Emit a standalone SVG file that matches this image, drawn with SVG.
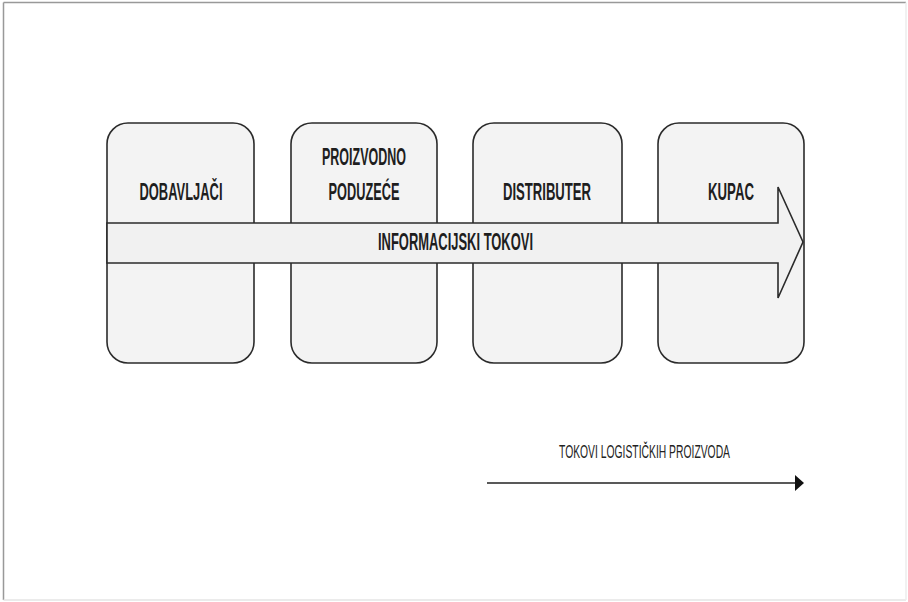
<svg xmlns="http://www.w3.org/2000/svg" width="908" height="602" viewBox="0 0 908 602">
<style>
.box{fill:#f3f3f3;stroke:#2b2b2b;stroke-width:1.6}
.band{fill:#f1f1f1;stroke:#2b2b2b;stroke-width:1.6;stroke-linejoin:miter}
.lbl{font-family:"Liberation Sans",Arial,sans-serif;font-weight:bold;font-size:23px;fill:#1e1e1e;text-anchor:middle}
.sub{font-family:"Liberation Sans",Arial,sans-serif;font-size:18px;fill:#222;text-anchor:middle}
.frame{stroke:#999;stroke-width:1.5;fill:none}
</style>
<rect width="908" height="602" fill="#fff"/>
<g id="frame">
<line class="frame" x1="3.5" y1="2.5" x2="906" y2="2.5"/>
<line class="frame" x1="3.5" y1="2.5" x2="3.5" y2="600"/>
<line x1="3.5" y1="600" x2="906" y2="600" stroke="#e4e4e4" stroke-width="1.5"/>
<line x1="906" y1="2.5" x2="906" y2="600" stroke="#ececec" stroke-width="1.5"/>
</g>
<g id="dobavljaci">
<rect class="box" x="107" y="123" width="147" height="240" rx="21" ry="21"/>
<text class="lbl" x="181" y="200" textLength="83" lengthAdjust="spacingAndGlyphs">DOBAVLJAČI</text>
</g>
<g id="proizvodno">
<rect class="box" x="291" y="123" width="146" height="240" rx="21" ry="21"/>
<text class="lbl" x="364" y="165" textLength="84" lengthAdjust="spacingAndGlyphs">PROIZVODNO</text>
<text class="lbl" x="364" y="200" textLength="71" lengthAdjust="spacingAndGlyphs">PODUZEĆE</text>
</g>
<g id="distributer">
<rect class="box" x="473" y="123" width="149" height="240" rx="21" ry="21"/>
<text class="lbl" x="547" y="200" textLength="88" lengthAdjust="spacingAndGlyphs">DISTRIBUTER</text>
</g>
<g id="kupac">
<rect class="box" x="658" y="123" width="146" height="240" rx="21" ry="21"/>
<text class="lbl" x="731" y="200" textLength="46" lengthAdjust="spacingAndGlyphs">KUPAC</text>
</g>
<g id="connectors">
<g id="informacijski">
<polygon class="band" points="107,223 778,223 778,187 803,242 778,298 778,263 107,263"/>
<text class="lbl" x="455.5" y="250" font-size="24" textLength="155" lengthAdjust="spacingAndGlyphs">INFORMACIJSKI TOKOVI</text>
</g>
<g id="logisticki">
<line x1="487" y1="483" x2="796" y2="483" stroke="#222" stroke-width="1.4"/>
<polygon points="795,475 804,483 795,491" fill="#111"/>
<text class="sub" x="644.5" y="458" textLength="171" lengthAdjust="spacingAndGlyphs">TOKOVI LOGISTIČKIH PROIZVODA</text>
</g>
</g>
</svg>
